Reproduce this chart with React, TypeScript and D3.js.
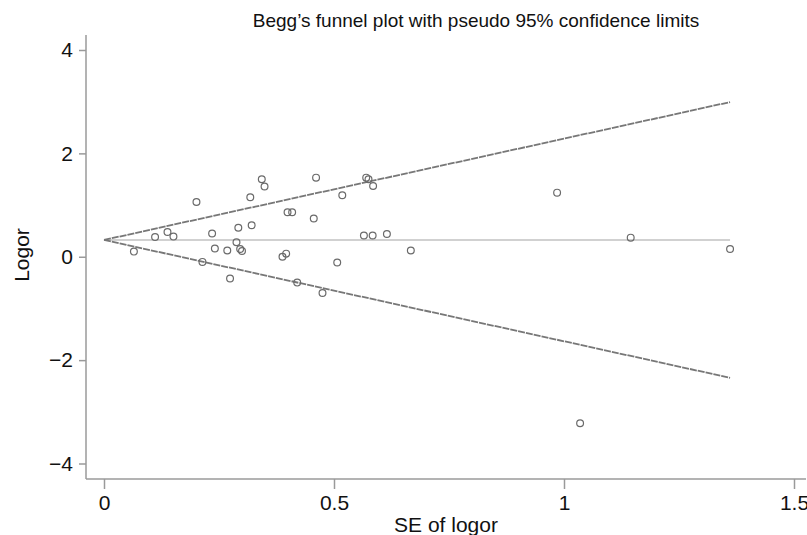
import React, { useEffect, useRef } from 'react';
import * as d3 from 'd3';

// study SE and log odds ratio
const seValues = [
  0.065, 0.111, 0.138, 0.151, 0.201, 0.214, 0.235, 0.241, 0.268, 0.274,
  0.288, 0.292, 0.296, 0.300, 0.318, 0.321, 0.343, 0.349, 0.388, 0.396,
  0.399, 0.409, 0.420, 0.456, 0.461, 0.475, 0.507, 0.518, 0.565, 0.570,
  0.575, 0.584, 0.585, 0.615, 0.667, 0.985, 1.035, 1.145, 1.361,
];
const logorValues = [
  0.10, 0.38, 0.48, 0.39, 1.06, -0.10, 0.45, 0.16, 0.12, -0.42,
  0.28, 0.56, 0.15, 0.11, 1.15, 0.61, 1.50, 1.36, 0.00, 0.06,
  0.86, 0.86, -0.50, 0.74, 1.53, -0.70, -0.11, 1.19, 0.41, 1.53,
  1.50, 0.41, 1.37, 0.44, 0.12, 1.24, -3.22, 0.37, 0.15,
];
const pooled = 0.325;
const seMax = 1.361;
const xTicks = [0, 0.5, 1, 1.5];
const yTicks = [-4, -2, 0, 2, 4];

const FONT = '"Liberation Sans", Arial, sans-serif';

const App: React.FC = () => {
  const svgRef = useRef<SVGSVGElement>(null);

  useEffect(() => {
    if (!svgRef.current) return;
    const svg = d3.select(svgRef.current);
    svg.selectAll('*').remove();

    const x = d3.scaleLinear().domain([0, 1.5]).range([104, 794]);
    const y = d3.scaleLinear().domain([-4, 4]).range([463.5, 50]);
    const axisColor = '#9a9a9a';

    // axis lines
    svg.append('line').attr('x1', 86).attr('x2', 86).attr('y1', 35).attr('y2', 479)
      .attr('stroke', axisColor).attr('stroke-width', 1.5);
    svg.append('line').attr('x1', 86).attr('x2', 806).attr('y1', 479).attr('y2', 479)
      .attr('stroke', axisColor).attr('stroke-width', 1.5);

    // y axis
    const yAxis = d3.axisLeft(y).tickValues(yTicks).tickSize(7).tickPadding(6)
      .tickFormat(d => d3.format('')(d as number).replace('-', '\u2212'));
    const gy = svg.append('g').attr('transform', 'translate(86,0)').call(yAxis);
    gy.select('.domain').remove();
    gy.selectAll('line').attr('stroke', axisColor).attr('stroke-width', 1.5);
    gy.selectAll('text').attr('font-family', FONT).attr('font-size', 21).attr('fill', '#111');

    // x axis
    const xAxis = d3.axisBottom(x).tickValues(xTicks).tickSize(10).tickPadding(6)
      .tickFormat(d => String(d));
    const gx = svg.append('g').attr('transform', 'translate(0,479)').call(xAxis);
    gx.select('.domain').remove();
    gx.selectAll('line').attr('stroke', axisColor).attr('stroke-width', 1.5);
    gx.selectAll('text').attr('font-family', FONT).attr('font-size', 21).attr('fill', '#111');

    // pooled estimate line
    svg.append('line')
      .attr('x1', x(0)).attr('x2', x(seMax))
      .attr('y1', y(pooled)).attr('y2', y(pooled))
      .attr('stroke', '#c2c2c2').attr('stroke-width', 1.5);

    // pseudo 95% limits
    [1.96, -1.96].forEach(z => {
      svg.append('line')
        .attr('x1', x(0)).attr('y1', y(pooled))
        .attr('x2', x(seMax)).attr('y2', y(pooled + z * seMax))
        .attr('stroke', '#777').attr('stroke-width', 1.8)
        .attr('stroke-dasharray', '7 1');
    });

    // studies
    svg.selectAll('.pt')
      .data(seValues.map((se, i) => ({ se, v: logorValues[i] })))
      .enter()
      .append('circle')
      .attr('cx', d => x(d.se))
      .attr('cy', d => y(d.v))
      .attr('r', 3.4)
      .attr('fill', 'none')
      .attr('stroke', '#6a6a6a')
      .attr('stroke-width', 1.2);

    // titles
    svg.append('text').attr('x', 476).attr('y', 27).attr('text-anchor', 'middle')
      .attr('font-family', FONT).attr('font-size', 19).attr('fill', '#111')
      .text('Begg\u2019s funnel plot with pseudo 95% confidence limits');
    svg.append('text').attr('x', 446).attr('y', 532).attr('text-anchor', 'middle')
      .attr('font-family', FONT).attr('font-size', 21).attr('fill', '#111')
      .text('SE of logor');
    svg.append('text').attr('transform', 'translate(29,255) rotate(-90)').attr('text-anchor', 'middle')
      .attr('font-family', FONT).attr('font-size', 21).attr('fill', '#111')
      .text('Logor');
  }, []);

  return (
    <div style={{ position: 'absolute', left: 0, top: 0, width: 807, height: 535, background: '#fff' }}>
      <svg ref={svgRef} width={807} height={535} viewBox="0 0 807 535" />
    </div>
  );
};

export default App;
